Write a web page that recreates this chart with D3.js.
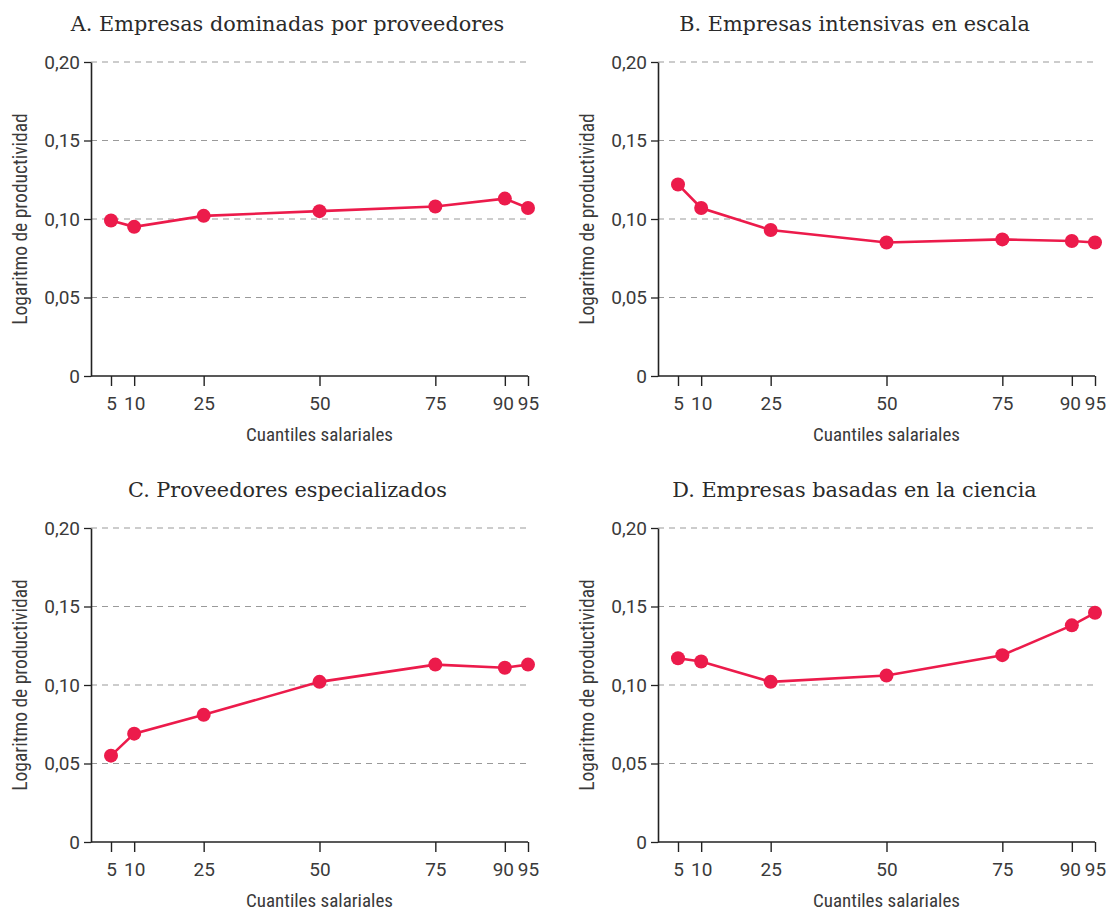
<!DOCTYPE html>
<html>
<head>
<meta charset="utf-8">
<script src="https://cdn.jsdelivr.net/npm/d3@7"></script>
<style>
  html, body { margin: 0; padding: 0; background: #fff; }
  svg { display: block; }
  .tick text { font-family: "Roboto", "Liberation Sans", sans-serif; }
</style>
</head>
<body>
<svg id="chart" width="1111" height="912"></svg>
<script>
// Wage quantiles on the x axis
const quantiles = [5, 10, 25, 50, 75, 90, 95];
const yTicks = [0, 0.05, 0.10, 0.15, 0.20];

// Log-productivity effect by quantile, one series per firm type
const seriesA = [0.099, 0.095, 0.102, 0.105, 0.108, 0.113, 0.107];
const seriesB = [0.122, 0.107, 0.093, 0.085, 0.087, 0.086, 0.085];
const seriesC = [0.055, 0.069, 0.081, 0.102, 0.113, 0.111, 0.113];
const seriesD = [0.117, 0.115, 0.102, 0.106, 0.119, 0.138, 0.146];

const titles = [
  "A. Empresas dominadas por proveedores",
  "B. Empresas intensivas en escala",
  "C. Proveedores especializados",
  "D. Empresas basadas en la ciencia"
];
const yLabel = "Logaritmo de productividad";
const xLabel = "Cuantiles salariales";

const panels = [
  { title: titles[0], values: seriesA, left: 91,  base: 376 },
  { title: titles[1], values: seriesB, left: 658, base: 376 },
  { title: titles[2], values: seriesC, left: 91,  base: 842 },
  { title: titles[3], values: seriesD, left: 658, base: 842 }
];

const plotW = 437, plotH = 314, firstTickOffset = 20;
const RED = "#ec1b4b";
const TEXT = "#3a3a3a";
const SANS = '"Liberation Sans Narrow", "Roboto Condensed", "Roboto", sans-serif';
const SERIF = '"DejaVu Serif", "Liberation Serif", serif';
const fmt = v => v === 0 ? "0" : d3.format(".2f")(v).replace(".", ",");

const svg = d3.select("#chart");

panels.forEach(p => {
  const x = d3.scaleLinear().domain([5, 95]).range([p.left + firstTickOffset, p.left + plotW]);
  const y = d3.scaleLinear().domain([0, 0.20]).range([p.base, p.base - plotH]);
  const g = svg.append("g");

  // dashed gridlines
  g.selectAll(".grid").data(yTicks.filter(d => d > 0)).join("line")
    .attr("x1", p.left).attr("x2", p.left + plotW)
    .attr("y1", d => y(d)).attr("y2", d => y(d))
    .attr("stroke", "#9a9a9a").attr("stroke-width", 1.2)
    .attr("stroke-dasharray", "6,5");

  // y axis
  const ya = g.append("g").attr("transform", `translate(${p.left},0)`)
    .call(d3.axisLeft(y).tickValues(yTicks).tickFormat(fmt).tickSize(7).tickSizeOuter(0).tickPadding(4));
  ya.select(".domain").attr("stroke", "#222").attr("stroke-width", 1.6);
  ya.selectAll(".tick line").attr("stroke", "#222").attr("stroke-width", 1.3);
  ya.selectAll(".tick text").attr("font-size", 19).attr("fill", TEXT);

  // x axis
  const xa = g.append("g").attr("transform", `translate(0,${p.base})`)
    .call(d3.axisBottom(x).tickValues(quantiles).tickFormat(d3.format("d")).tickSize(10).tickSizeOuter(0).tickPadding(11));
  xa.select(".domain").remove();
  xa.selectAll(".tick line").attr("stroke", "#222").attr("stroke-width", 1.4);
  xa.selectAll(".tick text").attr("font-size", 19).attr("fill", TEXT)
    .attr("dx", d => d === 90 ? -2 : 0);
  g.append("line")
    .attr("x1", p.left).attr("x2", p.left + plotW)
    .attr("y1", p.base).attr("y2", p.base)
    .attr("stroke", "#222").attr("stroke-width", 1.6);

  // series line + markers
  const pts = quantiles.map((q, i) => [q, p.values[i]]);
  g.append("path").datum(pts)
    .attr("fill", "none").attr("stroke", RED).attr("stroke-width", 2.6)
    .attr("d", d3.line().x(d => x(d[0])).y(d => y(d[1])));
  g.selectAll(".dot").data(pts).join("circle")
    .attr("cx", d => x(d[0])).attr("cy", d => y(d[1])).attr("r", 7)
    .attr("fill", RED);

  // titles and axis labels
  g.append("text")
    .attr("x", p.left + plotW / 2 - 22).attr("y", p.base - plotH - 31)
    .attr("text-anchor", "middle")
    .attr("font-family", SERIF).attr("font-size", 20.8).attr("fill", "#2a2a2a")
    .text(p.title);

  g.append("text")
    .attr("transform", `translate(${p.left - 64},${p.base - plotH / 2}) rotate(-90)`)
    .attr("text-anchor", "middle")
    .attr("font-family", SANS).attr("font-size", 19.5).attr("fill", TEXT)
    .text(yLabel);

  g.append("text")
    .attr("x", x(50)).attr("y", p.base + 65)
    .attr("text-anchor", "middle")
    .attr("font-family", SANS).attr("font-size", 19).attr("fill", TEXT)
    .text(xLabel);
});
</script>
</body>
</html>
